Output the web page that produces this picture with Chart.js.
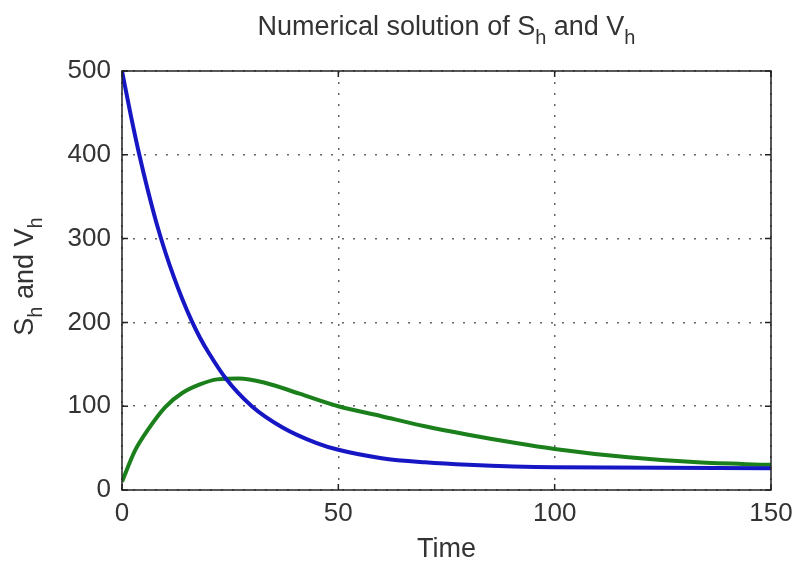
<!DOCTYPE html>
<html>
<head>
<meta charset="utf-8">
<script src="https://cdn.jsdelivr.net/npm/chart.js@4.4.1/dist/chart.umd.min.js"></script>
<style>
    html, body { margin: 0; padding: 0; background: #fff; }
    #wrap { width: 795px; height: 562px; }
</style>
</head>
<body>
<div id="wrap"><canvas id="chart" width="795" height="562"></canvas></div>
<script>
// Data
const timeS = [0, 2, 4, 6, 8, 10, 12, 14, 16, 18, 20, 24, 30, 37, 45, 50, 60, 70, 80, 100, 150];
const valuesS = [500, 448, 400, 357, 318, 284, 254, 227, 203, 182, 164, 133, 100, 75, 56, 48, 38, 33, 30, 27, 26];
const timeV = [0, 3, 6, 10, 14, 18, 22, 27, 33, 41, 50, 60, 70, 80, 90, 100, 117, 133, 150];
const valuesV = [10, 47, 72, 99, 116, 126, 132, 133, 128, 115, 100, 88, 76, 66, 57, 49, 39, 33, 30];
const xTicks = [0, 50, 100, 150];
const yTicks = [0, 100, 200, 300, 400, 500];

const FONT = '"Liberation Sans", Arial, Helvetica, sans-serif';
const TEXT_COLOR = '#333';

// Draw a line of text with subscript parts, centred on x
function drawSubText(ctx, parts, x, y, size) {
    const subSize = Math.round(size * 0.75);
    let total = 0;
    parts.forEach(p => {
        ctx.font = `${p.sub ? subSize : size}px ${FONT}`;
        p.w = ctx.measureText(p.t).width;
        total += p.w;
    });
    let cx = x - total / 2;
    ctx.textAlign = 'left';
    ctx.textBaseline = 'alphabetic';
    parts.forEach(p => {
        ctx.font = `${p.sub ? subSize : size}px ${FONT}`;
        ctx.fillText(p.t, cx, p.sub ? y + 9 : y);
        cx += p.w;
    });
}

// Box, inward ticks, title and axis labels
const decorations = {
    id: 'decorations',
    afterDraw(chart) {
        const ctx = chart.ctx;
        const a = chart.chartArea;
        const xs = chart.scales.x;
        const ys = chart.scales.y;
        ctx.save();
        ctx.strokeStyle = '#222';
        ctx.lineWidth = 1.5;
        ctx.strokeRect(a.left, a.top, a.right - a.left, a.bottom - a.top);

        ctx.beginPath();
        xTicks.forEach(v => {
            const px = xs.getPixelForValue(v);
            ctx.moveTo(px, a.bottom); ctx.lineTo(px, a.bottom - 6);
            ctx.moveTo(px, a.top); ctx.lineTo(px, a.top + 6);
        });
        yTicks.forEach(v => {
            const py = ys.getPixelForValue(v);
            ctx.moveTo(a.left, py); ctx.lineTo(a.left + 6, py);
            ctx.moveTo(a.right, py); ctx.lineTo(a.right - 6, py);
        });
        ctx.stroke();

        ctx.fillStyle = TEXT_COLOR;
        drawSubText(ctx, [
            { t: 'Numerical solution of S' }, { t: 'h', sub: true },
            { t: ' and V' }, { t: 'h', sub: true }
        ], (a.left + a.right) / 2, 35, 27);

        ctx.font = `27px ${FONT}`;
        ctx.textAlign = 'center';
        ctx.textBaseline = 'alphabetic';
        ctx.fillText('Time', (a.left + a.right) / 2, 557);

        ctx.translate(33, (a.top + a.bottom) / 2 - 4);
        ctx.rotate(-Math.PI / 2);
        drawSubText(ctx, [
            { t: 'S' }, { t: 'h', sub: true },
            { t: ' and V' }, { t: 'h', sub: true }
        ], 0, 0, 27);
        ctx.restore();
    }
};

const gridStyle = {
    color: '#666',
    lineWidth: 1.5,
    drawTicks: false
};

const chart = new Chart(document.getElementById('chart'), {
    type: 'line',
    data: {
        datasets: [
            {
                label: 'S_h',
                data: timeS.map((t, i) => ({ x: t, y: valuesS[i] })),
                borderColor: '#1616c4',
                borderWidth: 4,
                pointRadius: 0,
                cubicInterpolationMode: 'monotone',
                fill: false
            },
            {
                label: 'V_h',
                data: timeV.map((t, i) => ({ x: t, y: valuesV[i] })),
                borderColor: '#1b801b',
                borderWidth: 4,
                pointRadius: 0,
                cubicInterpolationMode: 'monotone',
                fill: false
            }
        ]
    },
    options: {
        responsive: false,
        animation: false,
        devicePixelRatio: 1,
        layout: { padding: { top: 71, right: 24, left: 0, bottom: 0 } },
        plugins: {
            legend: { display: false },
            title: { display: false },
            tooltip: { enabled: false }
        },
        scales: {
            x: {
                type: 'linear',
                min: 0,
                max: 150,
                afterBuildTicks: scale => { scale.ticks = xTicks.map(v => ({ value: v })); },
                afterFit: scale => {
                    scale.height = 72;
                    scale.paddingLeft = 0;
                    scale.paddingRight = 0;
                },
                grid: gridStyle,
                border: { display: false, dash: [2, 9] },
                ticks: {
                    color: TEXT_COLOR,
                    padding: 8,
                    maxRotation: 0,
                    font: { family: FONT, size: 26 }
                }
            },
            y: {
                type: 'linear',
                min: 0,
                max: 500,
                afterBuildTicks: scale => { scale.ticks = yTicks.map(v => ({ value: v })); },
                afterFit: scale => {
                    scale.width = 122;
                    scale.paddingTop = 0;
                    scale.paddingBottom = 0;
                },
                grid: gridStyle,
                border: { display: false, dash: [2, 9] },
                ticks: {
                    color: TEXT_COLOR,
                    padding: 11,
                    font: { family: FONT, size: 26 }
                }
            }
        }
    },
    plugins: [decorations]
});
</script>
</body>
</html>
